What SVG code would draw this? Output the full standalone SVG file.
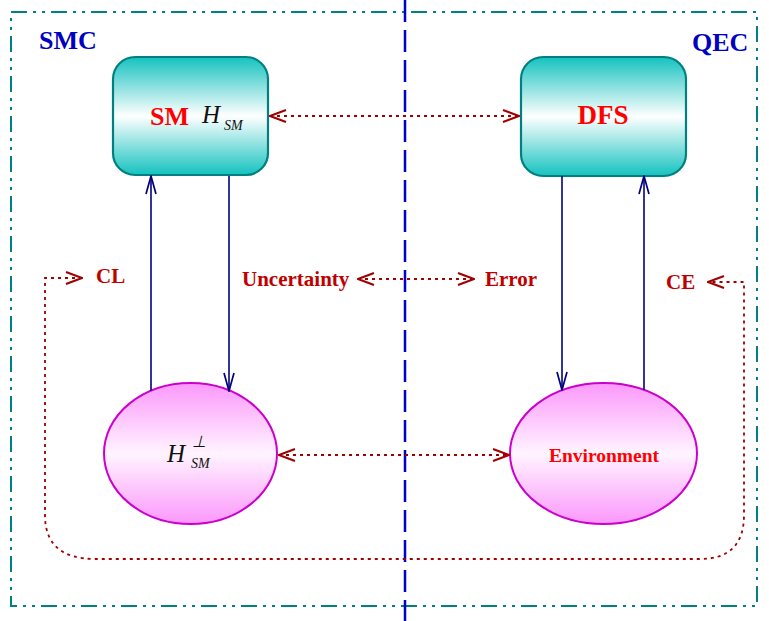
<svg xmlns="http://www.w3.org/2000/svg" width="769" height="621" viewBox="0 0 769 621">
<style>
.frame{fill:none;stroke:#008080;stroke-width:2;stroke-dasharray:16 6 3 6 3 6}
.divider{fill:none;stroke:#0000cc;stroke-width:2.5;stroke-dasharray:22 8}
.box{stroke:#008080;stroke-width:2.2;fill:url(#gBox)}
.ell{stroke:#cc00cc;stroke-width:2;fill:url(#gEll)}
.blue{fill:none;stroke:#000080;stroke-width:1.6;marker-end:url(#ab)}
.red{fill:none;stroke:#a00000;stroke-width:1.8;stroke-dasharray:3 4;marker-start:url(#ar);marker-end:url(#ar)}
.t{font-family:"Liberation Serif","Times New Roman",serif;font-weight:bold}
.region{fill:#0000c0;font-size:26px}
.lab{fill:#c00000;font-size:21px}
.node{fill:#ff0000}
.math{font-family:"Liberation Serif","Times New Roman",serif;font-style:italic;fill:#111}
</style>
<defs>
<linearGradient id="gBox" x1="0" y1="0" x2="0" y2="1">
<stop offset="0" stop-color="#14c2bf"/>
<stop offset="0.5" stop-color="#ffffff"/>
<stop offset="1" stop-color="#14c2bf"/>
</linearGradient>
<linearGradient id="gEll" x1="0" y1="0" x2="0" y2="1">
<stop offset="0" stop-color="#fb98fb"/>
<stop offset="0.5" stop-color="#fff4ff"/>
<stop offset="1" stop-color="#fb98fb"/>
</linearGradient>
<marker id="ar" viewBox="0 0 18 14" refX="17" refY="7" markerWidth="18" markerHeight="14" orient="auto-start-reverse" markerUnits="userSpaceOnUse">
<path d="M1,1 L17,7 L1,13" fill="none" stroke="#a00000" stroke-width="2"/>
</marker>
<marker id="ab" viewBox="0 0 20 12" refX="19" refY="6" markerWidth="20" markerHeight="12" orient="auto" markerUnits="userSpaceOnUse">
<path d="M1,1 L19,6 L1,11" fill="none" stroke="#000080" stroke-width="1.7"/>
</marker>
</defs>
<rect class="frame" x="11" y="12" width="746" height="594"/>
<line class="divider" x1="405" y1="0" x2="405" y2="621"/>
<text class="t region" x="39" y="49">SMC</text>
<text class="t region" x="692" y="51">QEC</text>
<g id="sm">
<rect class="box" x="113" y="57" width="155" height="118" rx="22" ry="22"/>
<text class="t node" x="150" y="125" font-size="26">SM</text>
<text class="math" x="202" y="123" font-size="25">H</text>
<text class="math" x="224" y="130" font-size="14">SM</text>
</g>
<g id="dfs">
<rect class="box" x="521" y="57" width="165" height="119" rx="22" ry="22"/>
<text class="t node" x="603" y="124" font-size="27" text-anchor="middle">DFS</text>
</g>
<g id="hsmperp">
<ellipse class="ell" cx="190.5" cy="453.5" rx="86.5" ry="70.5"/>
<text class="math" x="167" y="462" font-size="25">H</text>
<text class="math" x="192" y="447" font-size="16" font-style="normal">⊥</text>
<text class="math" x="191" y="468" font-size="14">SM</text>
</g>
<g id="environment">
<ellipse class="ell" cx="603.5" cy="453.5" rx="93.5" ry="70.5"/>
<text class="t node" x="604" y="462" font-size="19.5" text-anchor="middle">Environment</text>
</g>
<g id="labels">
<text class="t lab" x="96" y="283" font-size="23">CL</text>
<text class="t lab" x="242" y="286">Uncertainty</text>
<text class="t lab" x="485" y="286">Error</text>
<text class="t lab" x="666" y="289" font-size="23">CE</text>
</g>
<g id="connectors">
<line class="blue" x1="151" y1="391" x2="151" y2="176"/>
<line class="blue" x1="229" y1="176" x2="229" y2="391"/>
<line class="blue" x1="562" y1="176" x2="562" y2="390"/>
<line class="blue" x1="644" y1="390" x2="644" y2="176"/>
<line class="red" x1="270" y1="116" x2="519" y2="116"/>
<line class="red" x1="358" y1="279" x2="474" y2="279"/>
<line class="red" x1="279" y1="455" x2="509" y2="455"/>
<path class="red" d="M82,278 L45,278 L45,515 Q45,559 95,559 L700,559 Q744,559 744,515 L744,282 L708,282"/>
</g>
</svg>
